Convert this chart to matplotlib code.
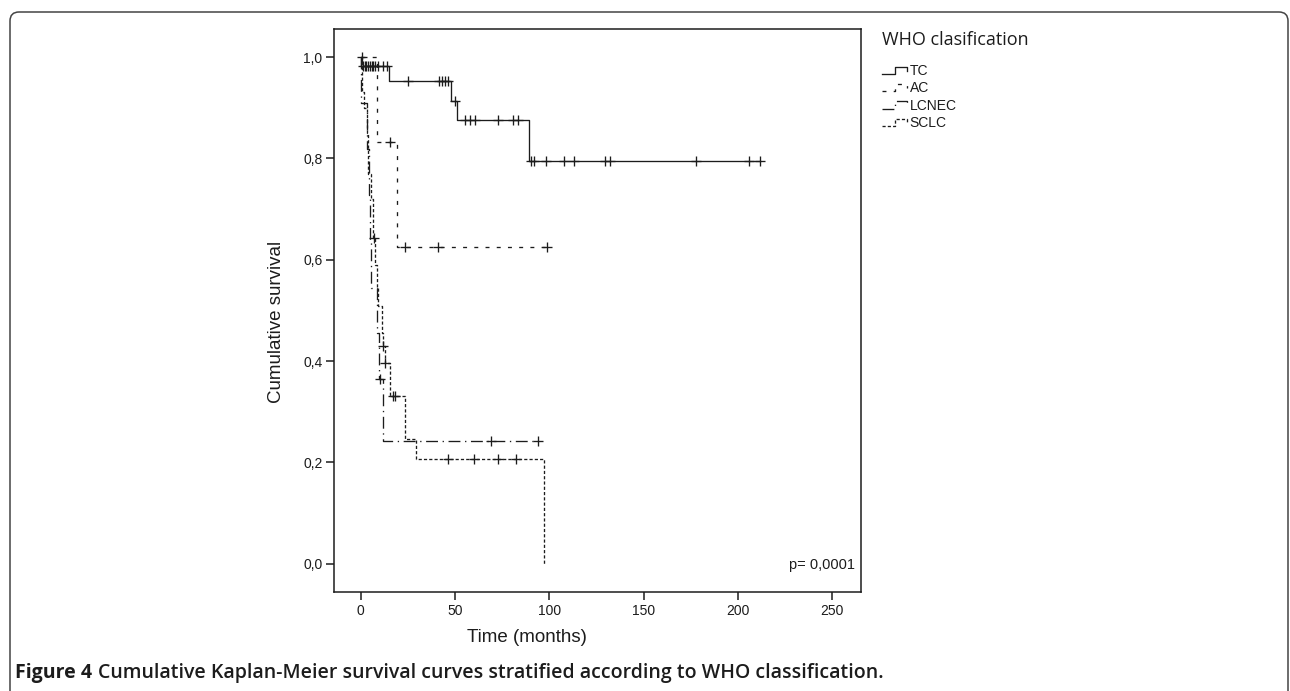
import numpy as np
import matplotlib
matplotlib.use("Agg")
import matplotlib.pyplot as plt
from matplotlib.lines import Line2D
from matplotlib.legend_handler import HandlerBase
from matplotlib.patches import FancyBboxPatch
from matplotlib.transforms import IdentityTransform
from matplotlib.ticker import FixedLocator, FuncFormatter

# ---------------- data ----------------
groups = ["TC", "AC", "LCNEC", "SCLC"]

tc_event_t = [0.3, 15.0, 47.8, 51.0, 89.2]
tc_event_s = [0.982, 0.952, 0.913, 0.875, 0.795]
tc_censor_t = [1.0, 2.0, 3.0, 3.9, 4.9, 5.8, 6.5, 7.4, 9.0, 11.8, 13.8,
               25.0, 41.5, 43.0, 44.7, 46.3, 50.0,
               55.3, 57.9, 60.6, 72.8, 80.7, 83.4,
               90.3, 91.9, 98.2, 107.8, 113.3, 129.5, 132.2, 177.6, 205.9, 211.7]

ac_event_t = [8.6, 19.0]
ac_event_s = [0.833, 0.625]
ac_censor_t = [0.5, 15.5, 23.5, 41.0, 99.0]

lcnec_event_t = [0.3, 3.5, 4.5, 5.0, 5.3, 8.5, 9.5, 12.0]
lcnec_event_s = [0.909, 0.818, 0.727, 0.636, 0.545, 0.455, 0.364, 0.242]
lcnec_censor_t = [10.2, 69.1, 94.2]

sclc_event_t = [0.5, 1.75, 3.2, 3.9, 5.3, 6.5, 7.6, 8.5, 9.2, 11.1, 11.8, 12.6,
                15.5, 23.5, 29.1, 97.2]
sclc_event_s = [0.93, 0.90, 0.85, 0.77, 0.72, 0.643, 0.59, 0.547, 0.508, 0.456,
                0.429, 0.396, 0.331, 0.247, 0.206, 0.0]
sclc_censor_t = [6.9, 12.0, 12.9, 17.3, 18.0, 46.1, 60.2, 73.0, 82.3]

x_ticks = [0, 50, 100, 150, 200, 250]
y_ticks = [0.0, 0.2, 0.4, 0.6, 0.8, 1.0]
p_text = "p= 0,0001"

# ---------------- styles ----------------
INK = "#1c1c1c"
styles = {
    "TC": dict(ls="-"),
    "AC": dict(ls=(0, (3.0, 5.5))),
    "LCNEC": dict(ls=(0, (9.0, 3.5, 1.0, 3.5))),
    "SCLC": dict(ls=(0, (2.4, 1.6))),
}
series = {
    "TC": (tc_event_t, tc_event_s, tc_censor_t),
    "AC": (ac_event_t, ac_event_s, ac_censor_t),
    "LCNEC": (lcnec_event_t, lcnec_event_s, lcnec_censor_t),
    "SCLC": (sclc_event_t, sclc_event_s, sclc_censor_t),
}


def surv_at(t, ev_t, ev_s):
    s = 1.0
    for et, es in zip(ev_t, ev_s):
        if et <= t:
            s = es
    return s


W, H = 1290, 691
fig = plt.figure(figsize=(W / 100, H / 100), dpi=100)
ax = fig.add_axes([334 / W, 1 - 592 / H, (861 - 334) / W, (592 - 29) / H])

handles = []
for g in groups:
    ev_t, ev_s, c_t = series[g]
    end = max(ev_t + c_t)
    xs = [0.0] + list(ev_t) + [end]
    ys = [1.0] + list(ev_s) + [ev_s[-1]]
    ln, = ax.step(xs, ys, where="post", color=INK, lw=0.95,
                  linestyle=styles[g]["ls"], label=g)
    handles.append(ln)
    cy = [surv_at(t, ev_t, ev_s) for t in c_t]
    ax.plot(c_t, cy, linestyle="none", marker="+", markersize=7.5,
            markeredgewidth=0.95, color=INK)

ax.set_xlim(-14.2, 265.3)
ax.set_ylim(-0.0559, 1.0553)
ax.xaxis.set_major_locator(FixedLocator(x_ticks))
ax.yaxis.set_major_locator(FixedLocator(y_ticks))
ax.yaxis.set_major_formatter(FuncFormatter(lambda v, p: f"{v:.1f}".replace(".", ",")))
ax.xaxis.set_major_formatter(FuncFormatter(lambda v, p: f"{int(v)}"))
for sp in ax.spines.values():
    sp.set_linewidth(1.1)
    sp.set_color(INK)
ax.tick_params(direction="out", length=5.8, width=1.1, color=INK,
               labelsize=10, pad=2.5)
for lab in ax.get_xticklabels() + ax.get_yticklabels():
    lab.set_family("Liberation Sans")
    lab.set_color(INK)

ax.set_ylabel("Cumulative survival", family="Liberation Sans", fontsize=13.5, color=INK)
ax.yaxis.set_label_coords(-0.093, 0.48)
ax.set_xlabel("Time (months)", family="Liberation Sans", fontsize=13.5, color=INK)
ax.xaxis.set_label_coords(0.366, -0.066)

ax.text(0.9886, 0.048, p_text, transform=ax.transAxes, ha="right", va="center",
        family="Liberation Sans", fontsize=10.5, color=INK)


# ---------------- legend ----------------
class StepHandler(HandlerBase):
    def __init__(self, ls):
        super().__init__()
        self.ls = ls

    def create_artists(self, legend, orig_handle, xdescent, ydescent, width,
                       height, fontsize, trans):
        xs = np.array([0.0, 0.5, 0.5, 0.95, 0.95]) * width - xdescent
        ys = np.array([0.1, 0.1, 0.85, 0.85, 0.45]) * height - ydescent
        l = Line2D(xs, ys, color=INK, lw=0.95, linestyle=self.ls)
        l.set_transform(trans)
        return [l]


hmap = {h: StepHandler(styles[g]["ls"]) for h, g in zip(handles, groups)}
leg = ax.legend(handles=handles, labels=groups, handler_map=hmap,
                loc="upper left", bbox_to_anchor=(882 / W, 1 - 64 / H),
                bbox_transform=fig.transFigure, frameon=False,
                borderpad=0, borderaxespad=0, handlelength=1.9,
                handleheight=0.7, handletextpad=0.1, labelspacing=0.24,
                prop=dict(family="Liberation Sans", size=10))
for t in leg.get_texts():
    t.set_color(INK)

fig.text(882 / W, 1 - 40 / H, "WHO clasification", family="Open Sans",
         fontsize=13, va="center", ha="left", color=INK)

# ---------------- frame & caption ----------------
frame = FancyBboxPatch((10, -40), 1278, (H - 12) + 40,
                       boxstyle="round,pad=0,rounding_size=9",
                       transform=IdentityTransform(), fill=False,
                       edgecolor="#444444", lw=1.1)
fig.patches.append(frame)

cap_y = 1 - 673 / H
t1 = fig.text(15 / W, cap_y, "Figure 4", family="Open Sans", weight="bold",
              fontsize=14, va="center", ha="left", color=INK)
fig.canvas.draw()
bb = t1.get_window_extent(fig.canvas.get_renderer())
fig.text((bb.x1 + 6) / W, cap_y,
         "Cumulative Kaplan-Meier survival curves stratified according to WHO classification.",
         family="Open Sans", weight="semibold", fontsize=14, va="center",
         ha="left", color=INK)

fig.savefig("out.png", dpi=100)
